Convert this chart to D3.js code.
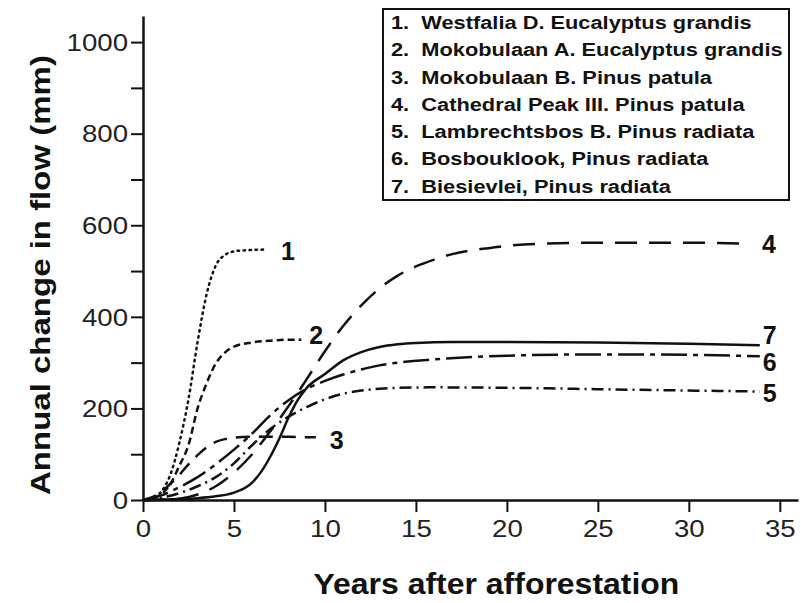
<!DOCTYPE html>
<html>
<head>
<meta charset="utf-8">
<script src="https://cdn.jsdelivr.net/npm/d3@7/dist/d3.min.js"></script>
<style>
html,body{margin:0;padding:0;background:#fff;}
svg{display:block;}
text{font-family:Arial,"Liberation Sans",Helvetica,sans-serif;}
</style>
</head>
<body>
<svg id="chart" width="801" height="603"></svg>
<script>
// ---- data ----
const legendLabels = [
  "1.  Westfalia D. Eucalyptus grandis",
  "2.  Mokobulaan A. Eucalyptus grandis",
  "3.  Mokobulaan B. Pinus patula",
  "4.  Cathedral Peak III. Pinus patula",
  "5.  Lambrechtsbos B. Pinus radiata",
  "6.  Bosbouklook, Pinus radiata",
  "7.  Biesievlei, Pinus radiata"
];
const curveIds = ["1","2","3","4","5","6","7"];

const years1 = [0,0.5,1,1.5,2,2.5,3,3.5,4,4.5,5,5.5,6,6.7];
const flow1  = [0,4,18,55,125,220,345,450,512,535,543,545,546,547];

const years2 = [0,0.5,1,1.5,2,2.5,3,3.5,4,4.5,5,6,7,8,8.7];
const flow2  = [0,3,12,35,75,120,200,255,298,322,335,344,348,350,350];

const years3 = [0,0.5,1,1.5,2,2.5,3,3.5,4,4.5,5,6,7,8,9,9.5];
const flow3  = [0,6,18,35,55,78,98,115,127,133,136,138,138,138,137,137];

const years4 = [0,2,3,4,5,6,7,8,9,10,11,12,13,14,15,16,17,18,19,20,22,25,30,33.2];
const flow4  = [0,3,12,30,60,100,150,205,264,325,380,425,462,490,510,525,537,545,550,555,560,562,562,560];

const years5 = [0,1,2,3,4,5,6,7,8,9,10,11,12,13,14,16,20,25,30,33.9];
const flow5  = [0,5,15,30,50,80,120,155,182,203,220,232,239,243,245,246,245,242,239,237];

const years6 = [0,1,2,3,4,5,6,7,8,9,10,11,12,13,14,16,20,25,30,33.9];
const flow6  = [0,10,28,50,78,110,145,185,218,243,260,274,285,294,300,307,315,318,317,314];

const years7 = [0,2,3,4,5,6,6.5,7,7.5,8,8.5,9,10,11,12,13,14,15,17,20,25,30,33.9];
const flow7  = [0,2,4,8,16,38,62,95,135,180,218,245,275,305,323,334,340,343,345,345,344,341,338];

const xTicks = [0,5,10,15,20,25,30,35];
const yTicks = [0,100,200,300,400,500,600,700,800,900,1000];
const xTitle = "Years after afforestation";
const yTitle = "Annual change in flow (mm)";

// ---- build ----
const allYears = [years1,years2,years3,years4,years5,years6,years7];
const allFlows = [flow1,flow2,flow3,flow4,flow5,flow6,flow7];
const dashes = ["1.5,4.5","7,4","14,9","22,12","12,5,2,5","26,6,5,6",null];
const labelOffsets = [[16,2],[8,-4],[14,3],[15,1],[3,2],[3,6],[3,-10]];

const svg = d3.select("#chart");
const x = d3.scaleLinear().domain([0,36]).range([143,798]);
const y = d3.scaleLinear().domain([0,1057]).range([500,16]);

const ink = "#111";
const lblScale = 1.15;

// axes
const xAxis = d3.axisBottom(x).tickValues(xTicks).tickSize(12).tickSizeOuter(0).tickPadding(5);
const gx = svg.append("g").attr("transform",`translate(0,${y(0)})`).call(xAxis);
gx.select(".domain").attr("stroke",ink).attr("stroke-width",2.5);
gx.selectAll(".tick line").attr("stroke",ink).attr("stroke-width",2);
gx.selectAll(".tick text").attr("fill","#222").attr("font-size",24).attr("font-family","Arial, 'Liberation Sans', sans-serif")
  .attr("transform",`scale(${lblScale},1)`)
  .attr("dy","0.82em");

const yAxis = d3.axisLeft(y).tickValues(yTicks).tickSize(12).tickSizeOuter(0).tickPadding(2)
  .tickFormat(d => d % 200 === 0 ? d : "");
const gy = svg.append("g").attr("transform",`translate(${x(0)},0)`).call(yAxis);
gy.select(".domain").attr("stroke",ink).attr("stroke-width",2.5);
gy.selectAll(".tick line").attr("stroke",ink).attr("stroke-width",2);
gy.selectAll(".tick text").attr("fill","#222").attr("font-size",24).attr("font-family","Arial, 'Liberation Sans', sans-serif")
  .attr("transform",`scale(${lblScale},1)`).attr("x",-15/lblScale).attr("dy","0.34em");

// curves
const line = d3.line().x(d=>x(d[0])).y(d=>y(d[1])).curve(d3.curveMonotoneX);
allYears.forEach((yrs,i)=>{
  const pts = yrs.map((v,j)=>[v, allFlows[i][j]]);
  svg.append("path").datum(pts)
    .attr("d",line).attr("fill","none").attr("stroke",ink)
    .attr("stroke-width",2.5)
    .attr("stroke-linecap", i===0 ? "round" : "butt")
    .attr("stroke-dasharray",dashes[i]);
  const last = pts[pts.length-1];
  svg.append("text")
    .attr("x", x(last[0]) + labelOffsets[i][0])
    .attr("y", y(last[1]) + labelOffsets[i][1])
    .attr("dy","0.35em")
    .attr("font-size",25).attr("font-weight","bold").attr("fill",ink)
    .text(curveIds[i]);
});

// axis titles
function fitText(sel, target){
  const w = sel.node().getComputedTextLength();
  return target / w;
}
const xt = svg.append("text").attr("font-size",30).attr("font-weight","bold").attr("fill",ink)
  .attr("text-anchor","middle").text(xTitle);
const sx = fitText(xt, 366);
xt.attr("transform",`translate(${x(0)+ (x(35)-x(0))*0.555},${594}) scale(${sx},1)`);

const yt = svg.append("text").attr("font-size",28).attr("font-weight","bold").attr("fill",ink)
  .attr("text-anchor","middle").text(yTitle);
const sy = fitText(yt, 440);
yt.attr("transform",`translate(50,${(y(0)+y(1000))/2 + 4}) rotate(-90) scale(${sy},1)`);

// legend
const lg = svg.append("g");
lg.append("rect").attr("x",383).attr("y",9).attr("width",406).attr("height",191)
  .attr("fill","#fff").attr("stroke",ink).attr("stroke-width",2);
const lt = lg.append("g");
legendLabels.forEach((t,i)=>{
  lt.append("text").attr("x",0).attr("y",i*27.3)
    .attr("font-size",19).attr("font-weight","bold").attr("fill",ink)
    .attr("xml:space","preserve").style("white-space","pre").text(t);
});
const maxW = d3.max(lt.selectAll("text").nodes(), n=>n.getComputedTextLength());
const ls = 392 / maxW;
lt.attr("transform",`translate(391,29) scale(${ls},1)`);
</script>
</body>
</html>
